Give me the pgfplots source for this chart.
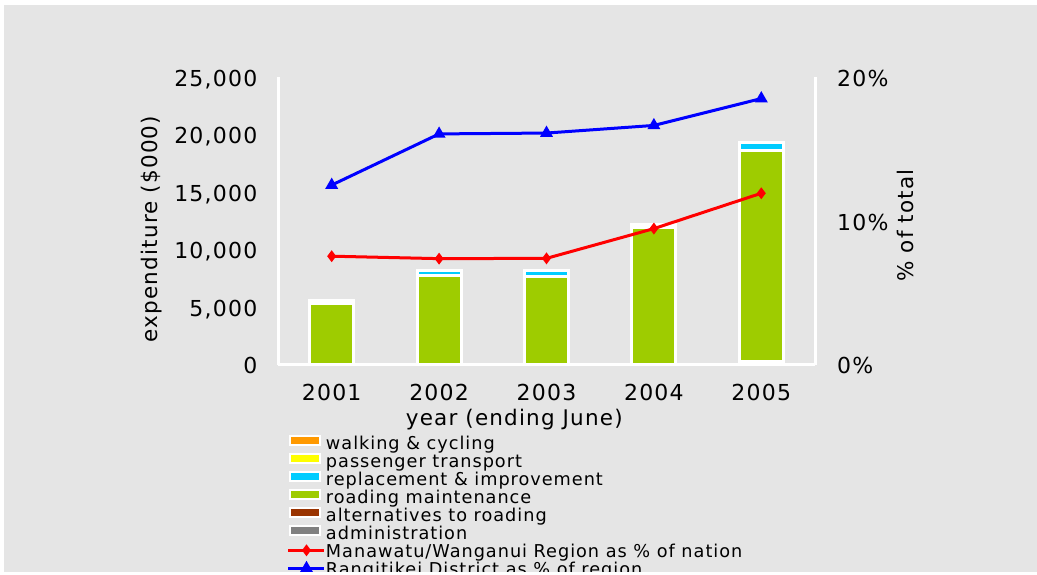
\documentclass[border=0pt]{standalone}
\usepackage{fontspec}
\setmainfont{DejaVu Sans}[LetterSpace=5.5]
\usepackage{pgfplots}
\usepackage{pgfplotstable}
\pgfplotsset{compat=1.18}
\definecolor{bg}{RGB}{229,229,229}
\definecolor{cwalk}{RGB}{255,153,0}
\definecolor{cpass}{RGB}{255,255,0}
\definecolor{crepl}{RGB}{0,204,255}
\definecolor{croad}{RGB}{158,204,0}
\definecolor{calt}{RGB}{153,51,0}
\definecolor{cadm}{RGB}{128,128,128}

\pgfplotsset{
  barleg/.style={legend image code/.code={\draw[##1] (2pt,-1pt) rectangle (32pt,8pt);}},
  lineleg/.style={legend image code/.code={\draw[mark repeat=2, mark phase=2, ##1] plot coordinates {(0pt,2.2pt) (18pt,2.2pt) (36pt,2.2pt)};}},
}

\pgfplotstableread{
year admin alt road repl pass walk
2001 0 0 5300 260 0 0
2002 0 0 7750 450 0 0
2003 0 0 7700 520 0 0
2004 0 0 11930 280 0 0
2005 300 0 18350 660 0 0
}\bardata

\pgfplotstableread{
year region district
2001 7.55 12.50
2002 7.38 16.06
2003 7.40 16.12
2004 9.47 16.65
2005 11.93 18.52
}\linedata

\begin{document}
\begin{tikzpicture}
\fill[bg] (4pt,3pt) rectangle (1037pt,570pt);
\pgfplotsset{common/.style={scale only axis, width=537pt, height=287.4pt,
  at={(278pt,210.3pt)}, anchor=south west, xmin=2000.5, xmax=2005.5,
  axis line style={-, white, line width=3pt}, major tick length=0pt,
  tick style={draw=none}, scaled y ticks=false, scaled x ticks=false}}
\begin{axis}[common, ybar stacked, bar width=44pt, ymin=0, ymax=25000,
  ytick={0,5000,10000,15000,20000,25000},
  yticklabels={0,{5,000},{10,000},{15,000},{20,000},{25,000}},
  xtick={2001,2002,2003,2004,2005},
  xticklabels={2001,2002,2003,2004,2005},
  axis x line*=bottom, axis y line*=left,
  yticklabel style={anchor=base east, inner sep=0pt, xshift=-20.5pt, yshift=-9.2pt, font=\fontsize{22}{26}\selectfont},
  xticklabel style={anchor=base, inner sep=0pt, yshift=-36pt, font=\fontsize{22}{26}\selectfont},
  xlabel={year (ending June)}, ylabel={expenditure (\$000)},
  every axis x label/.style={at={(axis description cs:0.44,-0.192)}, anchor=center, font=\fontsize{21.5}{26}\selectfont},
  every axis y label/.style={at={(axis description cs:-0.2346,0.472)}, anchor=center, rotate=90, font=\fontsize{21.5}{26}\selectfont},
]
\addplot[fill=cadm, draw=white, line width=3pt] table[x=year,y=admin]{\bardata};
\addplot[fill=calt, draw=white, line width=3pt] table[x=year,y=alt]{\bardata};
\addplot[fill=croad, draw=white, line width=3pt] table[x=year,y=road]{\bardata};
\addplot[fill=crepl, draw=white, line width=3pt] table[x=year,y=repl]{\bardata};
\addplot[fill=cpass, draw=white, line width=3pt] table[x=year,y=pass]{\bardata};
\addplot[fill=cwalk, draw=white, line width=3pt] table[x=year,y=walk]{\bardata};
\end{axis}
\begin{axis}[common, ymin=0, ymax=20, ytick={0,10,20},
  yticklabels={0\%,10\%,20\%},
  axis y line*=right, axis x line=none,
  yticklabel style={anchor=base west, inner sep=0pt, xshift=22pt, yshift=-9.2pt, font=\fontsize{22}{26}\selectfont},
  ylabel={\% of total},
  every axis y label/.style={at={(axis description cs:1.1676,0.484)}, anchor=center, rotate=90, font=\fontsize{21.5}{26}\selectfont},
  legend style={at={(axis description cs:0.01676,-0.2463)}, anchor=north west,
    draw=none, fill=none, inner sep=0pt, outer sep=0pt, row sep=0pt, column sep=0pt,
    font=\fontsize{17.7}{20}\selectfont,
    nodes={inner sep=0pt, text height=14.5pt, text depth=3.5pt}},
  legend cell align=left,
]
\addlegendimage{barleg, fill=cwalk, draw=white, line width=2pt}
\addlegendentry{walking \& cycling}
\addlegendimage{barleg, fill=cpass, draw=white, line width=2pt}
\addlegendentry{passenger transport}
\addlegendimage{barleg, fill=crepl, draw=white, line width=2pt}
\addlegendentry{replacement \& improvement}
\addlegendimage{barleg, fill=croad, draw=white, line width=2pt}
\addlegendentry{roading maintenance}
\addlegendimage{barleg, fill=calt, draw=white, line width=2pt}
\addlegendentry{alternatives to roading}
\addlegendimage{barleg, fill=cadm, draw=white, line width=2pt}
\addlegendentry{administration}
\addplot[red, line width=3pt, mark=diamond*, mark size=3.5pt, lineleg]
  table[x=year,y=region]{\linedata};
\addlegendentry{Manawatu/Wanganui Region as \% of nation}
\addplot[blue, line width=3pt, mark=triangle*, mark size=4.5pt, lineleg]
  table[x=year,y=district]{\linedata};
\addlegendentry{Rangitikei District as \% of region}
\end{axis}
\fill[white] (0pt,-40pt) rectangle (1037pt,3pt);
\pgfresetboundingbox
\path[use as bounding box] (0pt,0pt) rectangle (1037pt,575pt);
\end{tikzpicture}
\end{document}
